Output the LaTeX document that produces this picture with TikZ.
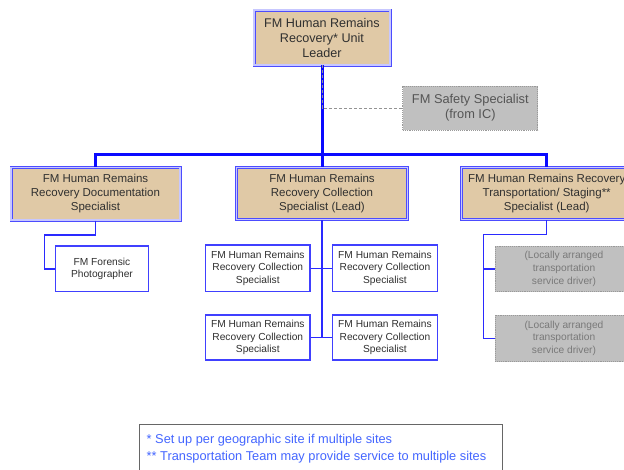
\documentclass[tikz,border=0pt]{standalone}
\usepackage{fontspec}
\setmainfont{Liberation Sans}
\definecolor{tanfill}{HTML}{E0C9A6}
\definecolor{boxgray}{HTML}{C0C0C0}
\definecolor{txt}{HTML}{303030}
\definecolor{graytxt}{HTML}{555555}
\definecolor{notetxt}{HTML}{4466FF}
\definecolor{busblue}{HTML}{0A0AFF}
\definecolor{linkblue}{HTML}{2A2AFF}
\begin{document}
\begin{tikzpicture}[x=1pt,y=-1pt,
  base/.style={rectangle,inner sep=0pt,align=center,text=txt},
  mainbox/.style={base,fill=tanfill,draw=blue!70,line width=0.9pt,double=blue!22,double distance=1.2pt},
  topfont/.style={font=\fontsize{12.6}{15}\selectfont},
  midfont/.style={font=\fontsize{11.5}{14}\selectfont},
  smallbox/.style={base,fill=white,draw=blue!75,line width=1.3pt,font=\fontsize{10.2}{12.8}\selectfont},
  graybox/.style={base,fill=boxgray,draw=gray!80,densely dotted,line width=0.9pt},
  bus/.style={draw=busblue,line width=3pt},
  link/.style={draw=linkblue,line width=1.5pt},
  aide/.style={draw=gray!85,densely dashed,line width=0.8pt}]
\clip (0,0) rectangle (624,469);
\fill[white] (0,0) rectangle (624,469);

% unit leader
\node[mainbox,topfont,minimum width=136pt,minimum height=55pt] (lead) at (322,37.5)
  {FM Human Remains\\Recovery* Unit\\Leader};

% safety specialist
\node[graybox,text=graytxt,font=\fontsize{12.8}{15}\selectfont,minimum width=135pt,minimum height=44pt] (safety) at (470.3,108)
  {FM Safety Specialist\\(from IC)};

% second level
\node[mainbox,midfont,minimum width=169pt,minimum height=52.5pt] (docu) at (95.5,193.8)
  {FM Human Remains\\Recovery Documentation\\Specialist};
\node[mainbox,midfont,minimum width=171pt,minimum height=52.5pt] (coll) at (322,193.6)
  {FM Human Remains\\Recovery Collection\\Specialist (Lead)};
\node[mainbox,midfont,minimum width=171pt,minimum height=52.5pt] (trans) at (546.7,193.6)
  {FM Human Remains Recovery\\Transportation/ Staging**\\Specialist (Lead)};

% third level
\node[smallbox,minimum width=92.6pt,minimum height=45.7pt] (photo) at (102,268.8)
  {FM Forensic\\Photographer};
\node[smallbox,minimum width=104.3pt,minimum height=46.7pt] (c1) at (257.8,268.3)
  {FM Human Remains\\Recovery Collection\\Specialist};
\node[smallbox,minimum width=104.6pt,minimum height=46.7pt] (c2) at (385,268.3)
  {FM Human Remains\\Recovery Collection\\Specialist};
\node[smallbox,minimum width=104.3pt,minimum height=45pt] (c3) at (257.8,337.5)
  {FM Human Remains\\Recovery Collection\\Specialist};
\node[smallbox,minimum width=104.6pt,minimum height=45pt] (c4) at (385,337.5)
  {FM Human Remains\\Recovery Collection\\Specialist};
\node[graybox,text=gray!95!black,font=\fontsize{10.2}{12.8}\selectfont,minimum width=138pt,minimum height=45.7pt] (d1) at (564,268.8)
  {(Locally arranged\\transportation\\service driver)};
\node[graybox,text=gray!95!black,font=\fontsize{10.2}{12.8}\selectfont,minimum width=138pt,minimum height=46.7pt] (d2) at (564,338.3)
  {(Locally arranged\\transportation\\service driver)};

% trunk points
\coordinate (busy) at (0,154);
\coordinate (aidept) at (322,108);
\coordinate (ltrunk) at (44.3,235);
\coordinate (ctrunk) at (322,337.5);
\coordinate (rtrunk) at (483.3,234.3);

% upper connectors
\draw[bus] (lead.south) -- (coll.north);
\draw[bus] (docu.north) -- (docu.north |- busy) -- (trans.north |- busy) -- (trans.north);
\draw[aide] (lead.south) -- (aidept) -- (safety.west);

% lower connectors
\draw[link] (docu.south) |- (ltrunk) |- (photo.west);
\draw[link] (coll.south) -- (ctrunk);
\draw[link] (c1.east) -- (c2.west);
\draw[link] (c3.east) -- (c4.west);
\draw[link] (trans.south) |- (rtrunk) |- (d2.west);
\draw[link] (d1.west) -- (d1.west -| rtrunk);

% notes
\draw[draw=gray!80!black,line width=0.9pt,fill=white] (139.3,424.3) rectangle (502.3,480);
\node[anchor=west,align=left,inner sep=0pt,text=notetxt,font=\fontsize{12.8}{17}\selectfont] (notes) at (146.5,449)
  {* Set up per geographic site if multiple sites\\** Transportation Team may provide service to multiple sites};
\end{tikzpicture}
\end{document}
